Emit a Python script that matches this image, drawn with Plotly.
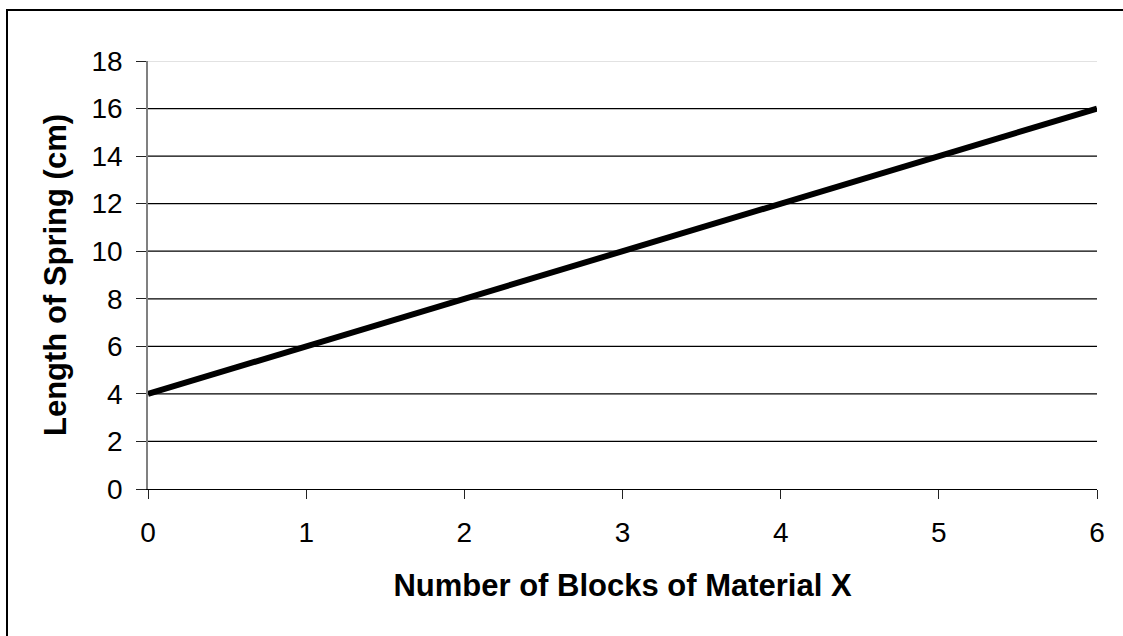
import plotly.graph_objects as go

blocks = [0, 1, 2, 3, 4, 5, 6]
length_cm = [4, 6, 8, 10, 12, 14, 16]
y_ticks = [0, 2, 4, 6, 8, 10, 12, 14, 16, 18]
x_title = "Number of Blocks of Material X"
y_title = "Length of Spring (cm)"

W, H = 1123, 636
L, R, T, B = 148, 26, 61, 147
pw, ph = W - L - R, H - T - B

fig = go.Figure()
fig.add_trace(go.Scatter(x=blocks, y=length_cm, mode="lines",
                         line=dict(color="black", width=6), showlegend=False))

# gridlines (black except top, which is light gray)
for v in y_ticks[1:]:
    fig.add_shape(type="line", xref="x", yref="y", x0=0, x1=6, y0=v, y1=v,
                  line=dict(color="#d9d9d9" if v == 18 else "black", width=1.3),
                  layer="below")

fig.update_layout(
    width=W, height=H,
    margin=dict(l=L, r=R, t=T, b=B, pad=0),
    paper_bgcolor="white", plot_bgcolor="white",
    font=dict(family="Liberation Sans, Arial, sans-serif", color="black"),
    xaxis=dict(range=[0, 6], tickvals=blocks, ticks="outside", ticklen=9,
               tickcolor="#222", tickwidth=1.3, showgrid=False, zeroline=False,
               showline=True, linecolor="black", linewidth=1.3,
               tickfont=dict(size=28), ticklabelstandoff=9,
               title=dict(text="<b>" + x_title + "</b>", font=dict(size=31), standoff=27)),
    yaxis=dict(range=[0, 18], tickvals=y_ticks, ticks="outside", ticklen=10,
               tickcolor="#222", tickwidth=1.3, showgrid=False, zeroline=False,
               showline=True, linecolor="#808080", linewidth=1.5,
               tickfont=dict(size=28), ticklabelstandoff=8,
               title=dict(text="<b>" + y_title + "</b>", font=dict(size=31), standoff=16)),
)

# outer border
fig.add_shape(type="rect", xref="paper", yref="paper",
              x0=(7 - L) / pw, x1=(W + 5 - L) / pw,
              y0=(T + ph - (H + 5)) / ph, y1=(T + ph - 10) / ph,
              line=dict(color="black", width=2), fillcolor="rgba(0,0,0,0)")

fig.write_html("out.html", config={"displayModeBar": False},
               post_script="document.body.style.margin='0';")
